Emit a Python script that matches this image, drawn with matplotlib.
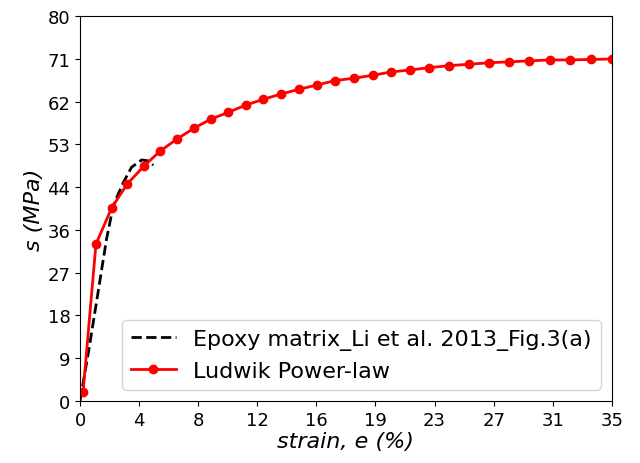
import numpy as np
import matplotlib.pyplot as plt
from matplotlib.ticker import FormatStrFormatter

# experimental curve (Li et al. 2013, Fig. 3a)
exp_strain = [0, 0.56, 1.12, 1.43, 1.75, 2.19, 2.85, 3.4, 4.06, 4.5, 4.82]
exp_stress = [0, 10.2, 21.2, 27.4, 33.7, 40.6, 45.4, 48.6, 50.1, 49.9, 49.0]

# Ludwik power-law fit
fit_strain = [0.2, 1.05, 2.08, 3.11, 4.23, 5.26, 6.36, 7.5, 8.62, 9.76,
              10.9, 12.06, 13.22, 14.43, 15.61, 16.78, 18.03, 19.26, 20.48, 21.73,
              23.0, 24.28, 25.59, 26.89, 28.2, 29.56, 30.9, 32.24, 33.6, 35.0]
fit_stress = [1.8, 32.6, 40.1, 45.1, 48.9, 51.9, 54.4, 56.7, 58.6, 60.0,
              61.5, 62.7, 63.8, 64.8, 65.7, 66.6, 67.1, 67.7, 68.4, 68.8,
              69.3, 69.7, 70.0, 70.3, 70.5, 70.7, 70.9, 70.9, 71.0, 71.1]

fig, ax = plt.subplots(figsize=(6.4, 4.64), dpi=100)
fig.subplots_adjust(left=0.125, right=0.956, bottom=0.134, top=0.963)

ax.plot(exp_strain, exp_stress, 'k--', lw=2, label='Epoxy matrix_Li et al. 2013_Fig.3(a)')
ax.plot(fit_strain, fit_stress, '-o', color='red', lw=2, ms=6,
        label='Ludwik Power-law')

ax.set_xlim(0, 35)
ax.set_ylim(0, 80)
ax.set_xticks(np.linspace(0, 35, 10))
ax.set_yticks(np.linspace(0, 80, 10))
ax.xaxis.set_major_formatter(FormatStrFormatter('%.0f'))
ax.yaxis.set_major_formatter(FormatStrFormatter('%.0f'))
ax.tick_params(labelsize=13)

ax.set_xlabel('strain, e (%)', fontsize=16, style='italic', labelpad=2)
ax.set_ylabel('s (MPa)', fontsize=16, style='italic', labelpad=2)

ax.legend(loc='lower right', fontsize=16)

plt.savefig('out.png', dpi=100)
